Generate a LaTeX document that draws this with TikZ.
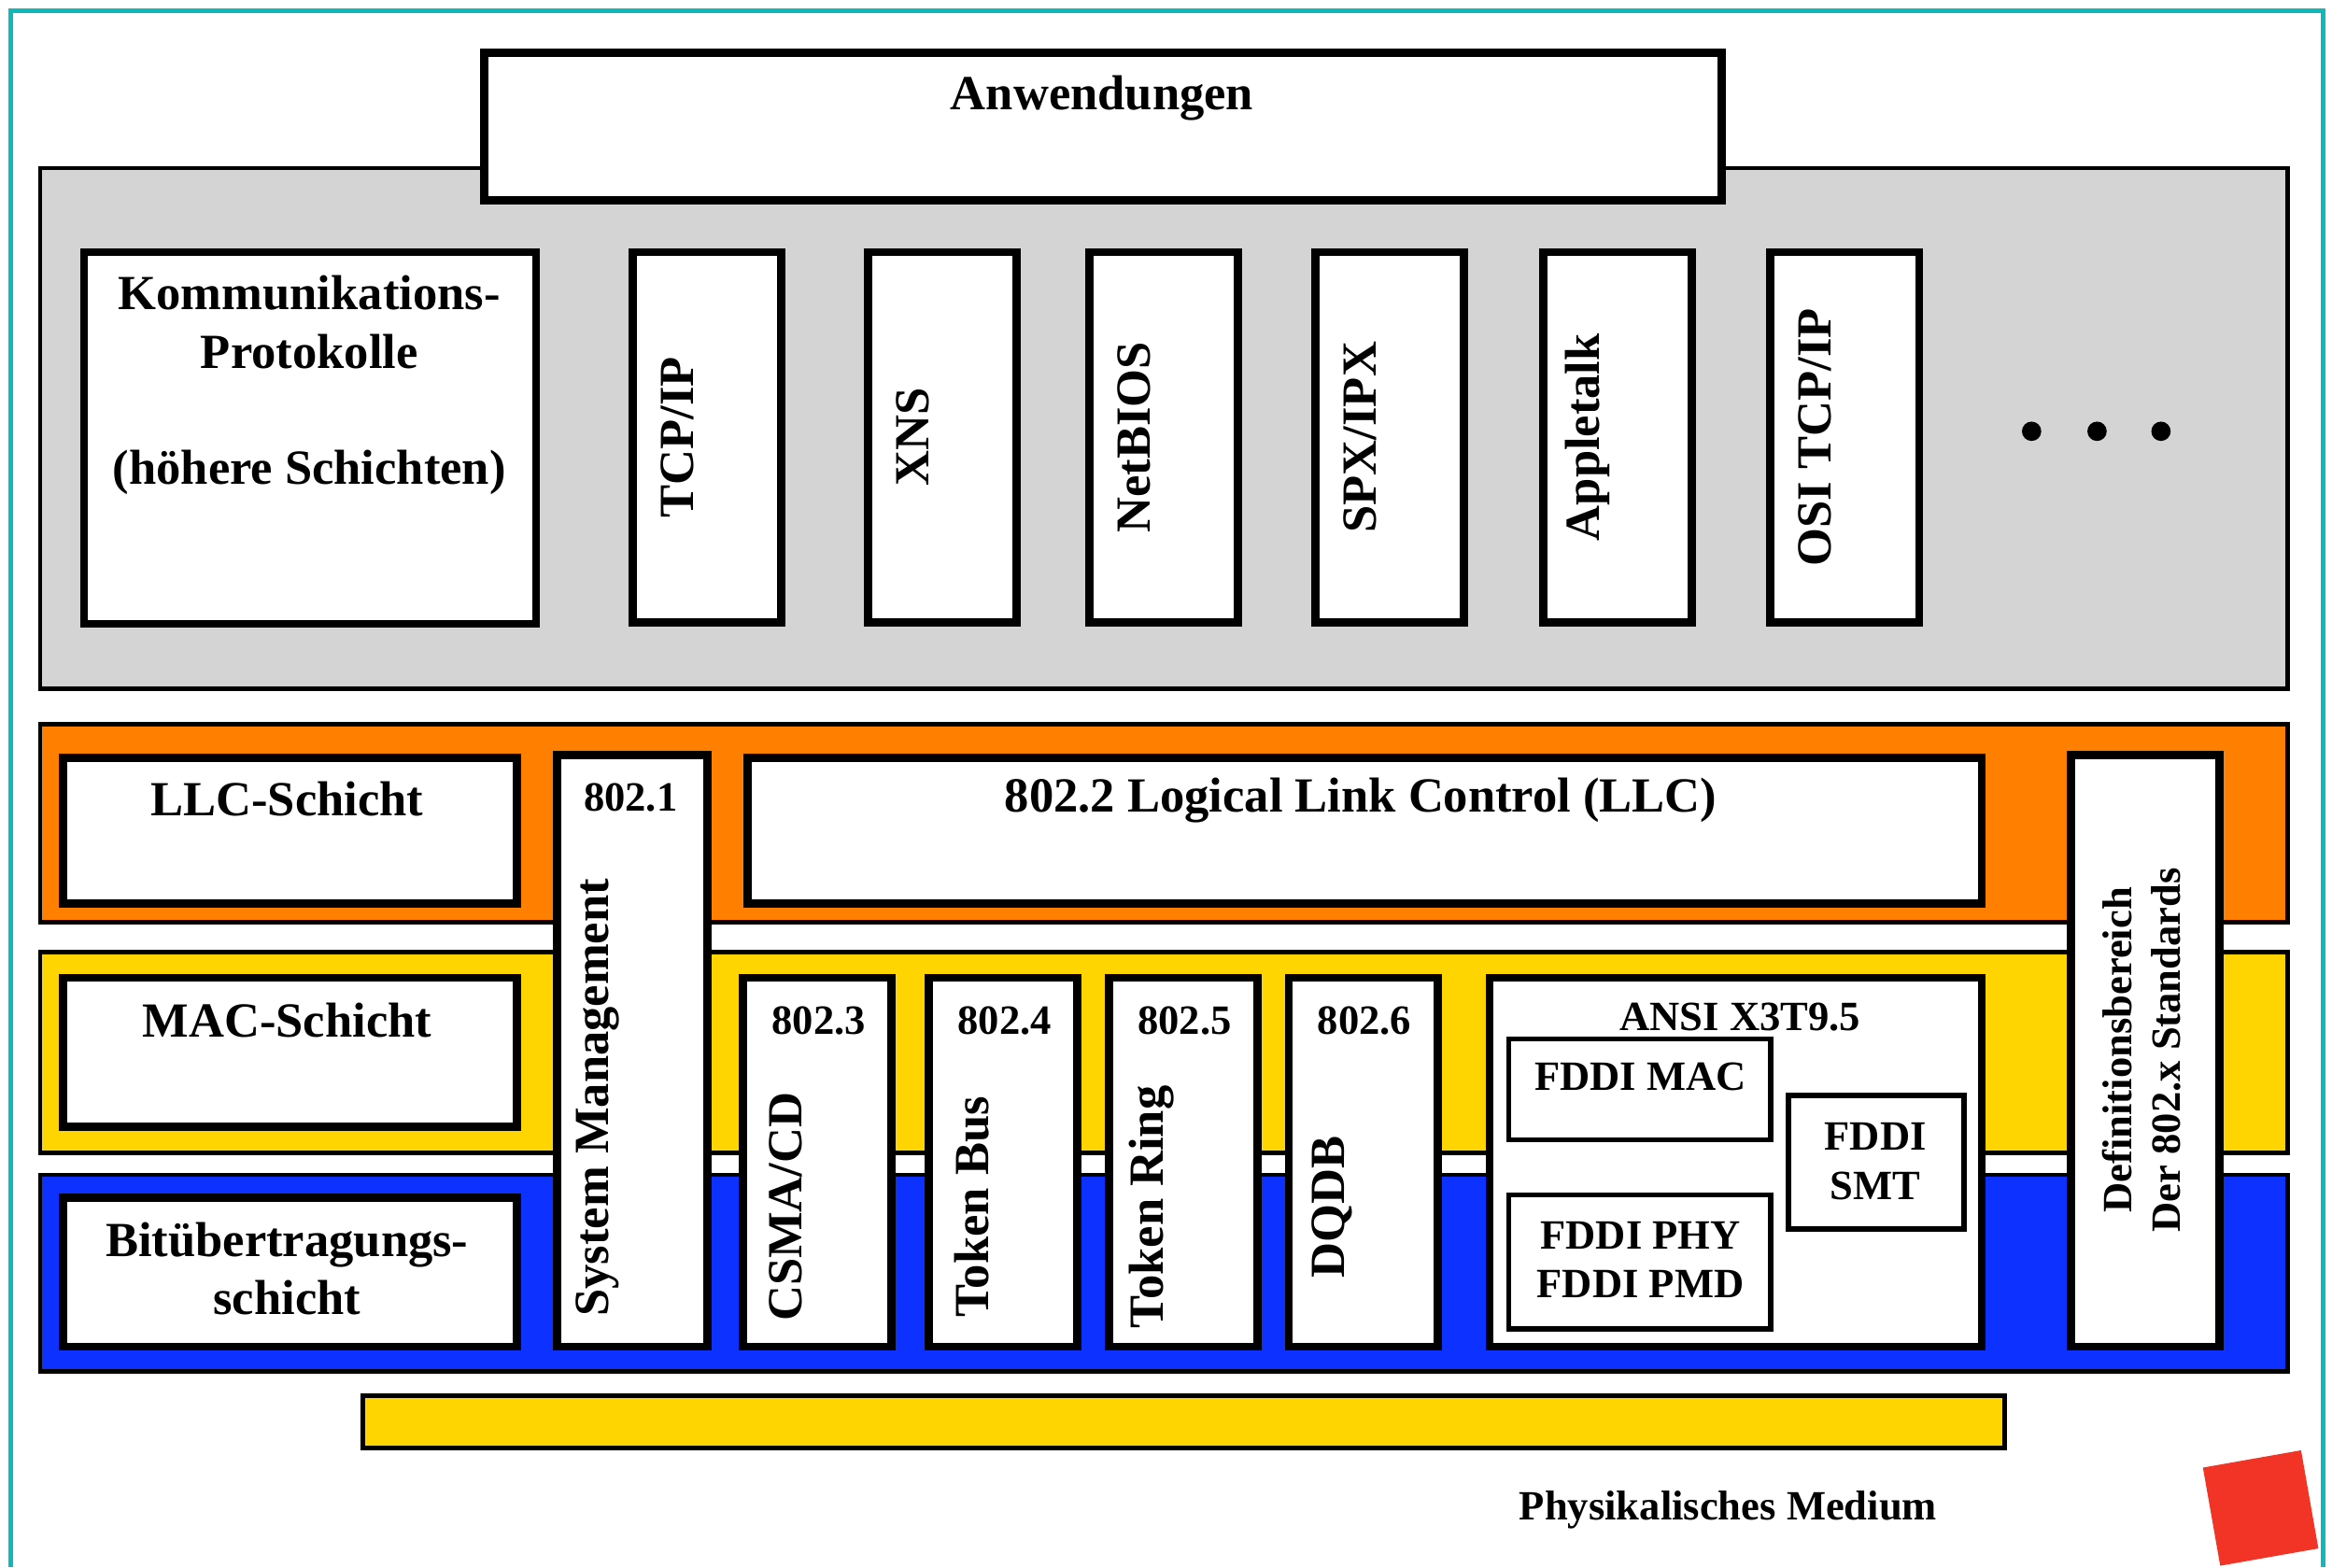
\documentclass[tikz,border=0pt]{standalone}
\usepackage{fontspec}
\setmainfont{Liberation Serif}
\usepackage{xcolor}
\usetikzlibrary{positioning,calc}

\definecolor{frameteal}{HTML}{10B9B9}
\definecolor{layergray}{HTML}{D4D4D4}
\definecolor{llcorange}{HTML}{FF7F00}
\definecolor{macyellow}{HTML}{FFD500}
\definecolor{phyblue}{HTML}{0D32FF}
\definecolor{cornerred}{HTML}{F23427}

\tikzset{
  big/.style={font=\fontsize{33}{39}\selectfont\bfseries, inner sep=0pt},
  small/.style={font=\fontsize{28}{33}\selectfont\bfseries, inner sep=0pt},
  wbox/.style={draw=black, fill=white, line width=5.5pt, inner sep=0pt},
  fbox/.style={draw=black, fill=white, line width=3.5pt, inner sep=0pt},
  band/.style={draw=black, line width=3pt},
}

\begin{document}
\begin{tikzpicture}[x=1pt,y=-1pt]
\useasboundingbox (0,0) rectangle (1568,1054);
% outer frame
\draw[frameteal, line width=3pt] (7,1054) -- (7,7) -- (1562,7) -- (1562,1054);

% upper layers: protocols
\draw[band, fill=layergray] (27,113) rectangle (1538,463);
\node[wbox, minimum width=832pt, minimum height=99pt] (anw) at (741.5,85) {};
\node[big] (anwtxt) at (741,66) {Anwendungen};
\node[wbox, minimum width=304pt, minimum height=250pt] (komm) at (208.5,294.5) {};
\node[big, align=center] (kommtxt) at (208,259) {Kommunikations-\\Protokolle\\[39pt](höhere Schichten)};
\foreach \x/\name/\txt in {475.5/tcp/{TCP/IP}, 633.5/xns/XNS, 782.5/netbios/NetBIOS,
    934.5/spx/{SPX/IPX}, 1087.5/apple/Appletalk, 1240.5/osi/{OSI TCP/IP}} {
  \node[wbox, minimum width=100pt, minimum height=249pt] (\name) at (\x,294) {};
  \node[big, rotate=90] (\name txt) at ($(\name.center)+(-20,0)$) {\txt};
}
\foreach \x/\name in {1366/d1, 1410/d2, 1453/d3}
  \fill (\x,290) circle (6.5) coordinate (\name);

% IEEE 802 layers
\draw[band, fill=llcorange] (27,487) rectangle (1538,620);
\draw[band, fill=macyellow] (27,640) rectangle (1538,775);
\draw[band, fill=phyblue] (27,790) rectangle (1538,922);

% left column
\node[wbox, minimum width=305pt, minimum height=98pt] (llc) at (195,558.5) {};
\node[big] (llctxt) at (193,537) {LLC-Schicht};
\node[wbox, minimum width=305pt, minimum height=100pt] (mac) at (195,707.5) {};
\node[big] (mactxt) at (193,686) {MAC-Schicht};
\node[wbox, minimum width=305pt, minimum height=100pt] (bit) at (195,855.5) {};
\node[big, align=center] (bittxt) at (193,853) {Bitübertragungs-\\schicht};

% 802.1 and 802.2
\node[wbox, minimum width=101pt, minimum height=398pt] (sysm) at (425,706.5) {};
\node[small] (sysmnum) at (424,536) {802.1};
\node[big, rotate=90] (sysmtxt) at (402,738) {System Management};
\node[wbox, minimum width=830pt, minimum height=98pt] (llcbox) at (917.5,558.5) {};
\node[big] (llcboxtxt) at (915,538) {802.2 Logical Link Control (LLC)};

% MAC standards
\foreach \x/\name/\num/\txt in {549.5/csma/802.3/{CSMA/CD}, 674.5/tbus/802.4/Token Bus,
    795.5/tring/802.5/Token Ring, 916.5/dqdb/802.6/DQDB} {
  \node[wbox, minimum width=100pt, minimum height=248pt] (\name) at (\x,781.5) {};
  \node[small] (\name num) at ($(\name.center)+(1,-95)$) {\num};
  \node[big, rotate=90] (\name txt) at ($(\name.center)+(-21,30)$) {\txt};
}

% FDDI
\node[wbox, minimum width=331pt, minimum height=248pt] (ansi) at (1167,781.5) {};
\node[small] (ansitxt) at (1170,684) {ANSI X3T9.5};
\node[fbox, minimum width=176pt, minimum height=68pt] (fmac) at (1102.5,732.5) {};
\node[small] (fmactxt) at (1103,724) {FDDI MAC};
\node[fbox, minimum width=118pt, minimum height=90pt] (fsmt) at (1261.5,781.5) {};
\node[small, align=center] (fsmttxt) at (1261,781) {FDDI\\SMT};
\node[fbox, minimum width=176pt, minimum height=90pt] (fphy) at (1102.5,848.5) {};
\node[small, align=center] (fphytxt) at (1103,847) {FDDI PHY\\FDDI PMD};

% scope of the standards
\node[wbox, minimum width=100pt, minimum height=398pt] (defb) at (1442.5,706.5) {};
\node[small, rotate=90, align=center] (defbtxt) at (1440,706) {Definitionsbereich\\Der 802.x Standards};

% medium
\node[draw=black, fill=macyellow, line width=3.5pt, minimum width=1104pt, minimum height=35pt, inner sep=0pt] (medium) at (796,956) {};
\node[small] (mediumtxt) at (1162,1015) {Physikalisches Medium};
\node[fill=cornerred, minimum size=67pt, inner sep=0pt, rotate=10] (redsq) at (1520,1014) {};
\end{tikzpicture}
\end{document}
